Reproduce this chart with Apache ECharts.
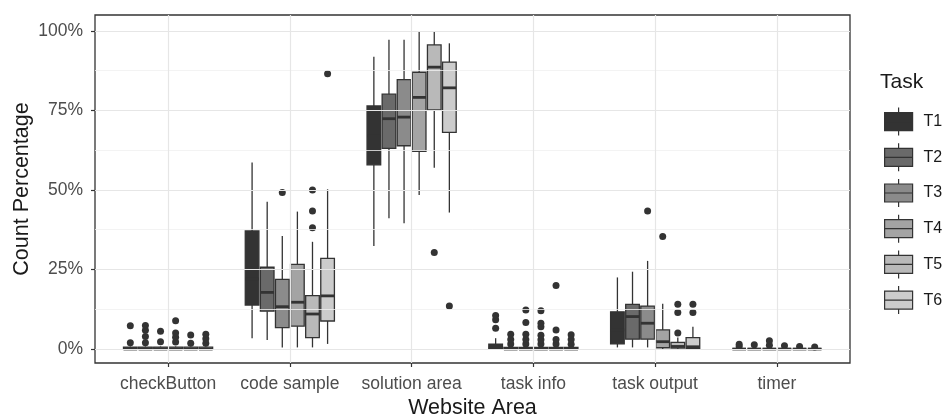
<!DOCTYPE html>
<html>
<head>
<meta charset="utf-8">
<script src="https://cdn.jsdelivr.net/npm/echarts@6/dist/echarts.min.js"></script>
<style>
  html, body { margin: 0; padding: 0; background: #ffffff; }
  #chart { width: 947px; height: 416px; }
</style>
</head>
<body>
<div id="chart"></div>
<script>
// ---- data ---------------------------------------------------------------
const categories = ['checkButton', 'code sample', 'solution area', 'task info', 'task output', 'timer'];
const tasks = ['T1', 'T2', 'T3', 'T4', 'T5', 'T6'];
const yTicks = [0, 25, 50, 75, 100];
const yMinorBreaks = [12.5, 37.5, 62.5, 87.5];

// [lower whisker, Q1, median, Q3, upper whisker] per website area (percent)
const statsT1 = [
  [0, 0, 0, 0.6, 0.8],
  [3.4, 13.8, 22.0, 37.1, 58.6],
  [32.4, 57.9, 67.0, 76.4, 91.9],
  [0, 0, 0.4, 1.5, 3.4],
  [0.5, 1.6, 6.0, 11.7, 22.5],
  [0, 0, 0, 0, 0]
];
const statsT2 = [
  [0, 0, 0, 0.6, 0.8],
  [2.8, 11.9, 17.8, 25.7, 46.3],
  [41.1, 63.1, 72.4, 80.1, 97.2],
  [0, 0, 0, 0.5, 0.6],
  [0.5, 3.1, 10.2, 14.0, 24.3],
  [0, 0, 0, 0, 0]
];
const statsT3 = [
  [0, 0, 0, 0.6, 0.8],
  [0.5, 6.7, 13.3, 21.9, 35.5],
  [39.5, 63.9, 72.9, 84.7, 97.2],
  [0, 0, 0, 0.5, 0.6],
  [0.5, 3.1, 8.1, 13.5, 27.7],
  [0, 0, 0, 0, 0]
];
const statsT4 = [
  [0, 0, 0, 0.6, 0.8],
  [0.5, 7.2, 14.7, 26.6, 43.2],
  [48.4, 62.1, 79.1, 87.0, 100],
  [0, 0, 0, 0.5, 0.6],
  [0, 0.4, 2.3, 6.0, 14.2],
  [0, 0, 0, 0, 0]
];
const statsT5 = [
  [0, 0, 0, 0.6, 0.8],
  [0.5, 3.6, 11.0, 16.8, 33.7],
  [57.0, 75.2, 88.6, 95.6, 100],
  [0, 0, 0, 0.5, 0.6],
  [0, 0.3, 0.8, 2.1, 3.6],
  [0, 0, 0, 0, 0]
];
const statsT6 = [
  [0, 0, 0, 0.6, 0.8],
  [1.6, 8.8, 16.7, 28.5, 50.2],
  [42.9, 68.1, 82.1, 90.2, 96.1],
  [0, 0, 0, 0.5, 0.6],
  [0, 0.2, 0.7, 3.6, 7.0],
  [0, 0, 0, 0, 0]
];

// outlying observations: [website area index, percent]
const outliersT1 = [[0, 2.0], [0, 7.3], [3, 6.5], [3, 9.2], [3, 10.5], [5, 0.8], [5, 1.5]];
const outliersT2 = [[0, 2.0], [0, 3.9], [0, 5.9], [0, 7.4], [3, 1.6], [3, 3.0], [3, 4.6], [5, 1.3]];
const outliersT3 = [[0, 2.3], [0, 5.6], [1, 49.2], [3, 1.6], [3, 3.0], [3, 4.6], [3, 8.3], [3, 12.3], [4, 43.4], [5, 1.2], [5, 2.6]];
const outliersT4 = [[0, 2.2], [0, 3.7], [0, 5.0], [0, 8.9], [3, 1.6], [3, 2.9], [3, 4.3], [3, 7.0], [3, 8.1], [3, 12.0], [4, 35.4], [5, 1.0]];
const outliersT5 = [[0, 1.8], [0, 4.4], [1, 38.1], [1, 43.4], [1, 50.0], [2, 30.3], [3, 1.6], [3, 3.0], [3, 6.0], [3, 20.0], [4, 5.0], [4, 11.5], [4, 14.1], [5, 0.8]];
const outliersT6 = [[0, 1.8], [0, 3.2], [0, 4.6], [1, 86.5], [2, 13.5], [3, 1.5], [3, 3.0], [3, 4.5], [4, 11.5], [4, 14.1], [5, 0.6]];

// ---- styling ------------------------------------------------------------
const fills = ['#333333', '#6a6a6a', '#8b8b8b', '#a4a4a4', '#b9b9b9', '#cccccc'];
const statsByTask = [statsT1, statsT2, statsT3, statsT4, statsT5, statsT6];
const outliersByTask = [outliersT1, outliersT2, outliersT3, outliersT4, outliersT5, outliersT6];
const DODGE = 0.124;     // spacing between neighbouring boxes (category units)
const BOX_W = 0.112;     // box width (category units)
const INK = '#333333';
const FONT = "'Liberation Sans', Arial, sans-serif";

const offsetOf = t => (t - (tasks.length - 1) / 2) * DODGE;

function boxRenderer(t) {
  return function (params, api) {
    const x = api.value(0) + offsetOf(t);
    const lo = api.coord([x, api.value(1)]);
    const q1 = api.coord([x, api.value(2)]);
    const md = api.coord([x, api.value(3)]);
    const q3 = api.coord([x, api.value(4)]);
    const hi = api.coord([x, api.value(5)]);
    const hw = api.size([BOX_W, 0])[0] / 2;
    const cx = lo[0];
    const lineStyle = { stroke: INK, lineWidth: 1.3 };
    return {
      type: 'group',
      children: [
        { type: 'line', shape: { x1: cx, y1: q3[1], x2: cx, y2: hi[1] }, style: lineStyle },
        { type: 'line', shape: { x1: cx, y1: q1[1], x2: cx, y2: lo[1] }, style: lineStyle },
        { type: 'rect', shape: { x: cx - hw, y: q3[1], width: hw * 2, height: q1[1] - q3[1] },
          style: { fill: fills[t], stroke: INK, lineWidth: 1.3 } },
        { type: 'line', shape: { x1: cx - hw, y1: md[1], x2: cx + hw, y2: md[1] },
          style: { stroke: INK, lineWidth: 2.8 } }
      ]
    };
  };
}

const boxSeries = tasks.map((name, t) => ({
  name: name,
  type: 'custom',
  z: 3,
  itemStyle: { color: fills[t], borderColor: INK, borderWidth: 1 },
  renderItem: boxRenderer(t),
  encode: { x: 0, y: [1, 2, 3, 4, 5] },
  data: statsByTask[t].map((s, c) => [c].concat(s))
}));

const outlierData = [];
outliersByTask.forEach((list, t) => {
  list.forEach(([c, v]) => outlierData.push([c + offsetOf(t), v]));
});

const gridLineSeries = {
  name: 'grid',
  type: 'line',
  z: 1,
  silent: true,
  data: [],
  markLine: {
    silent: true,
    symbol: ['none', 'none'],
    label: { show: false },
    animation: false,
    data: [].concat(
      yMinorBreaks.map(v => ({ yAxis: v, lineStyle: { color: '#f0f0f0', width: 0.8, type: 'solid' } })),
      yTicks.map(v => ({ yAxis: v, lineStyle: { color: '#e6e6e6', width: 1.2, type: 'solid' } })),
      categories.map((c, i) => ({ xAxis: i, lineStyle: { color: '#e6e6e6', width: 1.2, type: 'solid' } }))
    )
  }
};

const chart = echarts.init(document.getElementById('chart'), null, { renderer: 'canvas' });
chart.setOption({
  animation: false,
  backgroundColor: '#ffffff',
  textStyle: { fontFamily: FONT },
  title: {
    text: 'Task',
    left: 880,
    top: 72,
    padding: 0,
    textStyle: { fontFamily: FONT, fontSize: 21, fontWeight: 'normal', color: '#1a1a1a' }
  },
  legend: {
    data: tasks,
    orient: 'vertical',
    left: 884,
    top: 107,
    padding: 0,
    itemWidth: 28,
    itemHeight: 28,
    itemGap: 6.5,
    selectedMode: false,
    icon: 'path://M0 5 L28 5 L28 23 L0 23 Z M0 14 L28 14 M14 0 L14 5 M14 23 L14 28',
    itemStyle: { borderColor: INK, borderWidth: 1.2 },
    textStyle: { fontFamily: FONT, fontSize: 16, color: '#1a1a1a', padding: [0, 0, 0, 6] }
  },
  grid: {
    left: 95, right: 97, top: 15, bottom: 53,
    outerBoundsMode: 'none',
    containLabel: false,
    show: true, borderColor: INK, borderWidth: 1.3, backgroundColor: 'transparent'
  },
  xAxis: {
    type: 'value',
    min: -0.6,
    max: 5.6,
    name: 'Website Area',
    nameLocation: 'middle',
    nameGap: 34,
    nameMoveOverlap: false,
    nameTextStyle: { fontFamily: FONT, fontSize: 21.5, color: '#1a1a1a' },
    axisLine: { show: false, onZero: false },
    axisTick: { show: true, length: 4, lineStyle: { color: INK, width: 1.2 }, customValues: categories.map((c, i) => i) },
    axisLabel: {
      customValues: categories.map((c, i) => i),
      formatter: v => categories[Math.round(v)],
      fontFamily: FONT, fontSize: 17.5, color: '#4d4d4d', margin: 12
    },
    splitLine: { show: false }
  },
  yAxis: {
    type: 'value',
    min: -4.4,
    max: 105,
    name: 'Count Percentage',
    nameLocation: 'middle',
    nameGap: 62,
    nameMoveOverlap: false,
    nameTextStyle: { fontFamily: FONT, fontSize: 21.5, color: '#1a1a1a' },
    axisLine: { show: false, onZero: false },
    axisTick: { show: true, length: 4, lineStyle: { color: INK, width: 1.2 }, customValues: yTicks },
    axisLabel: {
      customValues: yTicks,
      formatter: v => Math.round(v) + '%',
      fontFamily: FONT, fontSize: 17.5, color: '#4d4d4d', margin: 12
    },
    splitLine: { show: false }
  },
  series: [gridLineSeries].concat(boxSeries, [{
    name: 'outliers',
    type: 'scatter',
    z: 4,
    symbol: 'circle',
    symbolSize: 7,
    itemStyle: { color: INK, opacity: 1 },
    data: outlierData
  }])
});
</script>
</body>
</html>
